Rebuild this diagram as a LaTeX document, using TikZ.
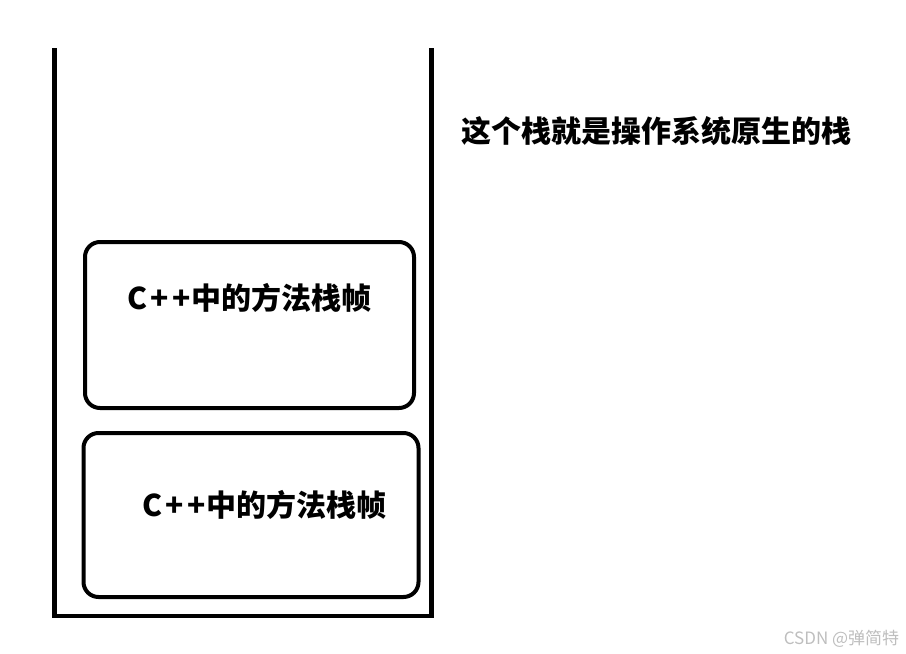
\documentclass[tikz,border=0pt]{standalone}
\usepackage{fontspec}
\newfontfamily\cjk{Noto Sans CJK SC}
\usepackage{xcolor}
\usepackage{tikz}
\usetikzlibrary{positioning}
\definecolor{mydark}{RGB}{0,0,0}
\definecolor{wmgray}{RGB}{190,190,190}
\tikzset{
  wall/.style={line width=4.5pt, color=mydark},
  frame/.style={rectangle, draw=mydark, line width=4pt, rounded corners=15pt},
  label/.style={font=\cjk\bfseries\fontsize{30}{33}\selectfont, inner sep=0pt, text=mydark}
}
\newcommand{\cpp}{C\hspace{3pt}+\hspace{4pt}+}

\begin{document}
\begin{tikzpicture}[x=1pt, y=-1pt]
  \useasboundingbox (0,0) rectangle (906,654);

  % Stack
  \coordinate (s1) at (54.5,48);
  \coordinate (s2) at (54.5,616);
  \coordinate (s3) at (431.5,616);
  \coordinate (s4) at (431.5,48);
  \draw[wall] (s1) -- (s2) -- (s3) -- (s4);

  % Frames
  \node[frame, minimum width=329pt, minimum height=166pt] (frame1) at (249.5,325) {};
  \node[frame, minimum width=335pt, minimum height=164pt] (frame2) at (251,515) {};

  % Labels
  \node[label] (txt1) at (249.5,298) {\cpp 中的方法栈帧};
  \node[label] (txt2) at (264.5,505) {\cpp 中的方法栈帧};
  \node[label] (note) at (656.5,131) {这个栈就是操作系统原生的栈};

  % Watermark
  \node[font=\cjk\fontsize{17}{19}\selectfont, text=wmgray, inner sep=0pt] (wm) at (841.5,639) {CSDN @弹简特};
\end{tikzpicture}
\end{document}
